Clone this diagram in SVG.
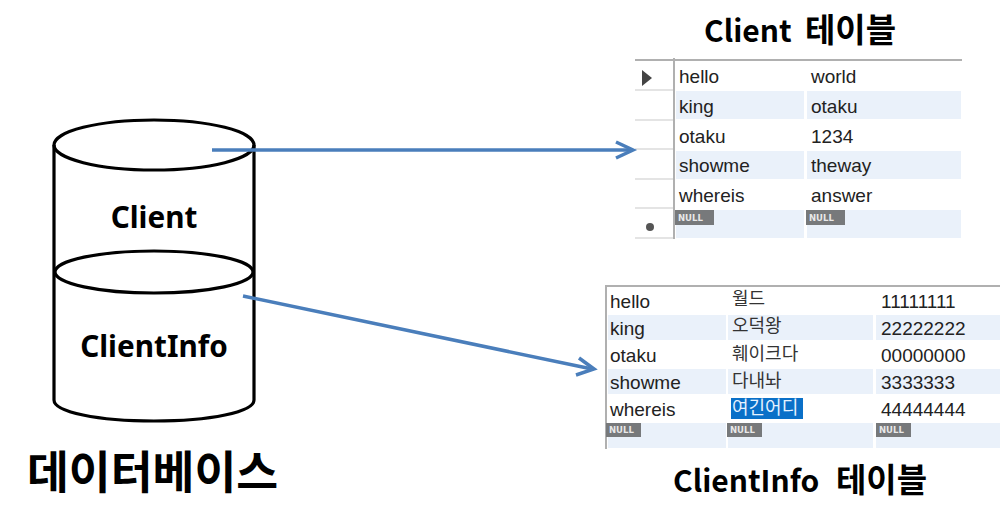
<svg xmlns="http://www.w3.org/2000/svg" width="1000" height="525" viewBox="0 0 1000 525">
<style>
.cyl{fill:none;stroke:#000;stroke-width:3.200}
.title{font-family:"Noto Sans CJK KR","Noto Sans",sans-serif;font-weight:700;fill:#000}
.label{font-family:"Noto Sans","Noto Sans CJK KR",sans-serif;font-weight:700;font-size:29.700px;fill:#000;text-anchor:middle}
.t{font-family:"Liberation Sans","Noto Sans CJK KR",sans-serif;font-size:19px;fill:#222}
.k{font-family:"Noto Sans CJK KR",sans-serif;font-size:18px;fill:#333}
.band{fill:#eaf1fa}
.rule{fill:#b0b0b0}
.sep{stroke:#dcdcdc;stroke-width:1.500}
.nullb{fill:#77797b}
.nullt{font-family:"DejaVu Sans",sans-serif;font-weight:700;font-size:8.500px;fill:#e8e8e8}
.conn{fill:none;stroke:#4a7ebb;stroke-width:3.500}
.head{fill:none;stroke:#4a7ebb;stroke-width:3.500}
</style>
<rect width="1000" height="525" fill="#fff"/>

<g id="database">
<path class="cyl" d="M54 145V400C54 412 98 421 154 421S254 412 254 400V145"/>
<ellipse class="cyl" cx="154" cy="145" rx="100" ry="25" fill="#fff"/>
<ellipse class="cyl" cx="154" cy="272" rx="99" ry="21"/>
<text class="label" x="154" y="228">Client</text>
<text class="label" x="154" y="357">ClientInfo</text>
<text class="title" x="27" y="489" font-size="45.500">데이터베이스</text>
</g>

<g id="client-table">
<text class="title" x="704" y="42" font-size="30">Client<tspan x="805" font-size="33">테이블</tspan></text>
<rect class="rule" x="635" y="59" width="327" height="2"/>
<rect class="rule" x="673" y="58" width="2" height="181"/>
<rect class="band" x="676" y="91" width="128" height="28"/>
<rect class="band" x="807" y="91" width="154" height="28"/>
<rect class="band" x="676" y="151" width="128" height="28"/>
<rect class="band" x="807" y="151" width="154" height="28"/>
<rect class="band" x="676" y="210" width="128" height="28"/>
<rect class="band" x="807" y="210" width="154" height="28"/>
<path class="sep" d="M635 90H673M635 120H673M635 149H673M635 179H673M635 208H673M635 238H673"/>
<path d="M642 70L652 78L642 86Z" fill="#444"/>
<circle cx="650" cy="227" r="4" fill="#555"/>
<g class="t">
<text x="679" y="83">hello</text><text x="811" y="83">world</text>
<text x="679" y="113">king</text><text x="811" y="113">otaku</text>
<text x="679" y="143">otaku</text><text x="811" y="143">1234</text>
<text x="679" y="172">showme</text><text x="811" y="172">theway</text>
<text x="679" y="202">whereis</text><text x="811" y="202">answer</text>
</g>
<rect class="nullb" x="675" y="210" width="39" height="15"/>
<rect class="nullb" x="806" y="210" width="39" height="15"/>
<text class="nullt" x="678" y="221">NULL</text>
<text class="nullt" x="809" y="221">NULL</text>
</g>

<g id="clientinfo-table">
<text class="title" x="673" y="492" font-size="30">ClientInfo<tspan x="836" font-size="33">테이블</tspan></text>
<rect class="rule" x="605" y="285" width="395" height="2"/>
<rect class="rule" x="605" y="285" width="2" height="164"/>
<rect class="band" x="608" y="315" width="118" height="25"/>
<rect class="band" x="728" y="315" width="145" height="25"/>
<rect class="band" x="876" y="315" width="124" height="25"/>
<rect class="band" x="608" y="369" width="118" height="25"/>
<rect class="band" x="728" y="369" width="145" height="25"/>
<rect class="band" x="876" y="369" width="124" height="25"/>
<rect class="band" x="608" y="423" width="118" height="25"/>
<rect class="band" x="728" y="423" width="145" height="25"/>
<rect class="band" x="876" y="423" width="124" height="25"/>
<rect x="731" y="398" width="72" height="21" fill="#0a70c8"/>
<g class="t">
<text x="610" y="308">hello</text><text x="881" y="308">11111111</text>
<text x="610" y="335">king</text><text x="881" y="335">22222222</text>
<text x="610" y="362">otaku</text><text x="881" y="362">00000000</text>
<text x="610" y="389">showme</text><text x="881" y="389">3333333</text>
<text x="610" y="416">whereis</text><text x="881" y="416">44444444</text>
</g>
<text class="k" x="732" y="305">월드</text>
<text class="k" x="732" y="332">오덕왕</text>
<text class="k" x="732" y="360">훼이크다</text>
<text class="k" x="732" y="387">다내놔</text>
<text class="k" x="732" y="414" style="fill:#e6f2ff">여긴어디</text>
<rect class="nullb" x="606" y="423" width="35" height="14"/>
<rect class="nullb" x="727" y="423" width="35" height="14"/>
<rect class="nullb" x="876" y="423" width="35" height="14"/>
<text class="nullt" x="609" y="433">NULL</text>
<text class="nullt" x="730" y="433">NULL</text>
<text class="nullt" x="879" y="433">NULL</text>
</g>

<g id="connectors">
<path class="conn" d="M212 150H632"/>
<path class="head" d="M616 142L633 150L616 158"/>
<path class="conn" d="M243 296L592 369"/>
<path class="head" d="M579 358L594 369L576 375"/>
</g>
</svg>
